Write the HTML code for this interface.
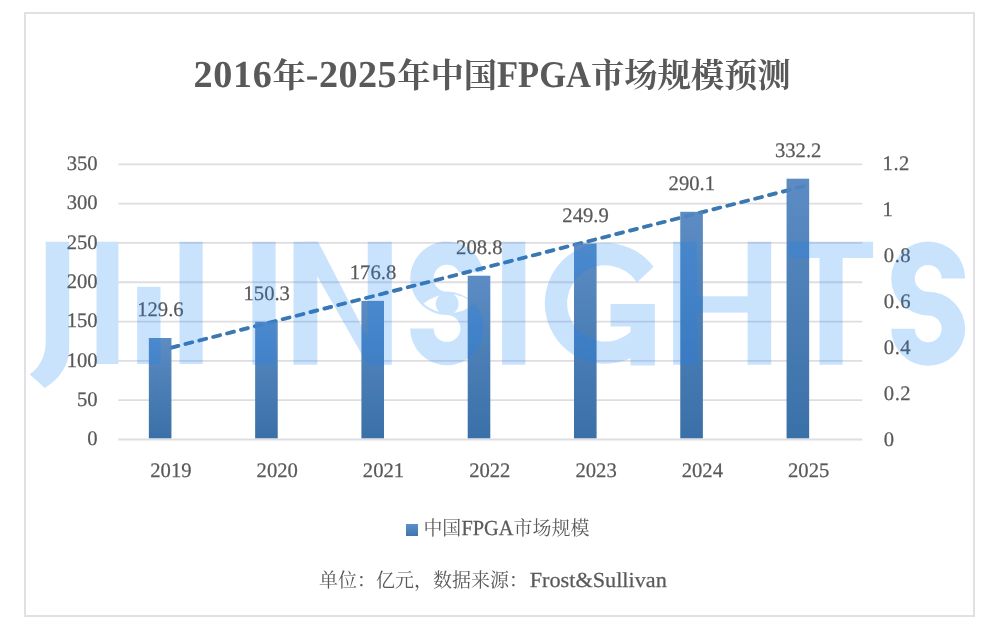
<!DOCTYPE html>
<html lang="zh-CN"><head><meta charset="utf-8"><title>2016年-2025年中国FPGA市场规模预测</title>
<style>
html,body{margin:0;padding:0;background:#fff}
body{width:993px;height:629px;overflow:hidden;font-family:"Liberation Serif",serif;color:#595959}
#chart{position:relative;width:993px;height:629px;overflow:hidden;background:#fff}
.frame{position:absolute;left:24px;top:12px;width:947px;height:601px;border:2px solid #e1e1e5}
svg{position:absolute;left:0;top:0;overflow:visible}
.cj text{fill:#595959;font-family:"Liberation Serif","Noto Serif CJK SC",serif}
.txt{position:absolute;left:0;top:0;width:993px;height:629px;opacity:.999}
.t{position:absolute;left:0;top:0;white-space:nowrap;text-rendering:geometricPrecision;transform-origin:0 0;-webkit-text-stroke:0.25px #595959;font-kerning:none;font-family:"Liberation Serif",serif;color:#595959;margin:0;padding:0}
h1,p{margin:0;padding:0;font-weight:normal;font-size:inherit}
.title .t{-webkit-text-stroke:0}
.sr{position:absolute;left:30px;top:20px;width:1px;height:1px;overflow:hidden;clip-path:inset(50%);white-space:nowrap;font-size:1px;line-height:1px;color:transparent}
.lgm{position:absolute;background:linear-gradient(#5b8fc9,#3f76b0)}
</style></head>
<body>
<div id="chart">
<div class="frame"></div>
<svg class="plot" width="993" height="629" viewBox="0 0 993 629"><defs><linearGradient id="bg" x1="0" y1="0" x2="0" y2="1"><stop offset="0" stop-color="#5c8cc3"/><stop offset="1" stop-color="#3a70a8"/></linearGradient></defs><g stroke="#dedee2" stroke-width="1.8"><line x1="118.3" y1="164.3" x2="862.3" y2="164.3"/><line x1="118.3" y1="203.61" x2="862.3" y2="203.61"/><line x1="118.3" y1="242.93" x2="862.3" y2="242.93"/><line x1="118.3" y1="282.24" x2="862.3" y2="282.24"/><line x1="118.3" y1="321.56" x2="862.3" y2="321.56"/><line x1="118.3" y1="360.87" x2="862.3" y2="360.87"/><line x1="118.3" y1="400.19" x2="862.3" y2="400.19"/><line x1="118.3" y1="439.5" x2="862.3" y2="439.5"/></g><line id="trend" x1="171.49" y1="347.6" x2="809.16" y2="184.9" stroke="#3b77b0" stroke-width="3.7" stroke-linecap="round" stroke-dasharray="7.1 7.24"/><g fill="url(#bg)"><rect x="148.84" y="338" width="22.6" height="100.3"/><rect x="255.13" y="321.72" width="22.6" height="116.58"/><rect x="361.41" y="300.88" width="22.6" height="137.42"/><rect x="467.7" y="275.72" width="22.6" height="162.58"/><rect x="573.99" y="243.41" width="22.6" height="194.89"/><rect x="680.27" y="211.8" width="22.6" height="226.5"/><rect x="786.56" y="178.7" width="22.6" height="259.6"/></g><use href="#trend" opacity="0.35"/></svg>
<div class="txt">
<h1 class="mx title"><span class="t" style="transform:translate(193.5px,52px);font-size:38.13px;line-height:46px;letter-spacing:0.68px;font-weight:bold;">2016</span><span class="sr">年</span><span class="t" style="transform:translate(305.79px,52px);font-size:38.13px;line-height:46px;letter-spacing:0.47px;font-weight:bold;">-2025</span><span class="sr">年中国</span><span class="t" style="transform:translate(497px,53px) scaleX(0.9175);font-size:37.66px;line-height:45px;font-weight:bold;">FPGA</span><span class="sr">市场规模预测</span><svg class="cj" width="993" height="629" viewBox="0 0 993 629" aria-hidden="true" focusable="false"><text x="272.5" y="87" font-size="33.25" font-weight="bold">年</text><text x="397.2" y="87" font-size="33.25" font-weight="bold">年中国</text><text x="591" y="87" font-size="33.25" font-weight="bold">市场规模预测</text></svg></h1>
<div class="ax yl">
<span class="t" style="transform:translate(66.69px,152px);font-size:20.67px;line-height:25px;">350</span>
<span class="t" style="transform:translate(66.69px,191px);font-size:20.67px;line-height:25px;">300</span>
<span class="t" style="transform:translate(66.69px,231px);font-size:20.67px;line-height:25px;">250</span>
<span class="t" style="transform:translate(66.69px,270px);font-size:20.67px;line-height:25px;">200</span>
<span class="t" style="transform:translate(66.69px,309px);font-size:20.67px;line-height:25px;">150</span>
<span class="t" style="transform:translate(66.69px,349px);font-size:20.67px;line-height:25px;">100</span>
<span class="t" style="transform:translate(77.03px,388px);font-size:20.67px;line-height:25px;">50</span>
<span class="t" style="transform:translate(87.37px,427px);font-size:20.67px;line-height:25px;">0</span>
</div><div class="ax yr">
<span class="t" style="transform:translate(882.6px,152px);font-size:20.67px;line-height:25px;letter-spacing:0.5px;">1.2</span>
<span class="t" style="transform:translate(882.6px,198px);font-size:20.67px;line-height:25px;">1</span>
<span class="t" style="transform:translate(883.8px,244px);font-size:20.67px;line-height:25px;letter-spacing:0.5px;">0.8</span>
<span class="t" style="transform:translate(883.8px,290px);font-size:20.67px;line-height:25px;letter-spacing:0.5px;">0.6</span>
<span class="t" style="transform:translate(883.8px,336px);font-size:20.67px;line-height:25px;letter-spacing:0.5px;">0.4</span>
<span class="t" style="transform:translate(883.8px,382px);font-size:20.67px;line-height:25px;letter-spacing:0.5px;">0.2</span>
<span class="t" style="transform:translate(883.8px,428px);font-size:20.67px;line-height:25px;">0</span>
</div><div class="ax xl">
<span class="t" style="transform:translate(150.27px,459px);font-size:20.67px;line-height:25px;">2019</span>
<span class="t" style="transform:translate(256.56px,459px);font-size:20.67px;line-height:25px;">2020</span>
<span class="t" style="transform:translate(362.84px,459px);font-size:20.67px;line-height:25px;">2021</span>
<span class="t" style="transform:translate(469.13px,459px);font-size:20.67px;line-height:25px;">2022</span>
<span class="t" style="transform:translate(575.42px,459px);font-size:20.67px;line-height:25px;">2023</span>
<span class="t" style="transform:translate(681.7px,459px);font-size:20.67px;line-height:25px;">2024</span>
<span class="t" style="transform:translate(787.99px,459px);font-size:20.67px;line-height:25px;">2025</span>
</div><div class="dl">
<span class="t" style="transform:translate(137.19px,298px);font-size:20.67px;line-height:25px;">129.6</span>
<span class="t" style="transform:translate(243.47px,282px);font-size:20.67px;line-height:25px;">150.3</span>
<span class="t" style="transform:translate(349.76px,261px);font-size:20.67px;line-height:25px;">176.8</span>
<span class="t" style="transform:translate(456.05px,236px);font-size:20.67px;line-height:25px;">208.8</span>
<span class="t" style="transform:translate(562.33px,204px);font-size:20.67px;line-height:25px;">249.9</span>
<span class="t" style="transform:translate(668.62px,172px);font-size:20.67px;line-height:25px;">290.1</span>
<span class="t" style="transform:translate(774.9px,139px);font-size:20.67px;line-height:25px;">332.2</span>
</div>
<div class="lgm" style="left:405.5px;top:523.7px;width:12.6px;height:12.6px"></div>
<div class="mx legend"><span class="sr">中国</span><span class="t" style="transform:translate(461.5px,515px) scaleX(0.9489);font-size:21.43px;line-height:26px;">FPGA</span><span class="sr">市场规模</span><svg class="cj" width="993" height="629" viewBox="0 0 993 629" aria-hidden="true" focusable="false"><text x="423.4" y="535" font-size="18.95">中国</text><text x="513.6" y="535" font-size="18.95">市场规模</text></svg></div>
<p class="mx note"><span class="sr">单位：亿元，数据来源：</span><span class="t" style="transform:translate(529.65px,567px) scaleX(1.0384);font-size:21.43px;line-height:26px;">Frost&amp;Sullivan</span><svg class="cj" width="993" height="629" viewBox="0 0 993 629" aria-hidden="true" focusable="false"><text x="319" y="587" font-size="19">单位：亿元，数据来源：</text></svg></p>
</div>
<svg class="wm" width="993" height="629" viewBox="0 0 993 629" role="img" aria-label="JL INSIGHTS watermark"><title>JL INSIGHTS</title><defs><mask id="eyem" maskUnits="userSpaceOnUse" x="0" y="0" width="993" height="629"><rect width="993" height="629" fill="#fff"/><path d="M423.6 303.7A39.02 39.02 0 0 1 474.4 303.7A39.02 39.02 0 0 1 423.6 303.7Z" fill="#000"/><circle cx="447.2" cy="303.7" r="11.4" fill="#fff"/></mask></defs><g fill="#1482fa" opacity="0.22"><path d="M45.7 241.7H69.2V349.8C69.2 364 60 379 44.8 387.9L29.5 374.2C38 369 45.7 358 45.7 341.5Z"/><rect x="96.5" y="241.7" width="21.9" height="122.3"/><rect x="137.1" y="286.8" width="23.4" height="77.2"/><rect x="179.5" y="241.7" width="23.2" height="122.3"/><rect x="252.4" y="241.7" width="23.2" height="123.1"/><rect x="293.5" y="241.7" width="23.8" height="123.1"/><rect x="367.7" y="241.7" width="24.1" height="123.1"/><path d="M305.0 241.7H318.1L380.0 361.54V364.8H367.7L305.0 254.82Z"/><path d="M965.2 278.4A37.0 37.0 0 1 0 928.2 315.4A13.4 13.4 0 0 1 928.2 342.2A13.4 13.4 0 0 1 914.8 328.8H891.2A37.0 37.0 0 1 0 928.2 291.8A13.4 13.4 0 0 1 928.2 265A13.4 13.4 0 0 1 941.6 278.4Z"/><path d="M483.31 272.2A36.8 36.8 0 1 0 447 315A13.4 13.4 0 0 1 447 341.8A13.4 13.4 0 0 1 433.6 328.4H410.2A36.8 36.8 0 1 0 447 291.6A13.4 13.4 0 0 1 447 264.8A13.4 13.4 0 0 1 458.98 272.2Z" mask="url(#eyem)"/><rect x="502.1" y="241.7" width="23.2" height="123.1"/><path d="M637.0 282.4L653.6 266.8A60.5 60.5 0 1 0 654.9 337.91V304.0H610.6V326.5H630.5V332.01A38.1 38.1 0 1 1 637.0 282.4Z"/><path d="M630.5 326.5V365.4H654.9V337.91L630.5 332.01Z"/><rect x="673.1" y="241.7" width="23.7" height="123.1"/><rect x="747.6" y="241.7" width="23.6" height="123.1"/><rect x="690" y="296.3" width="65" height="16.3"/><rect x="789" y="241.7" width="84.1" height="16.3"/><rect x="819.5" y="250" width="23.1" height="114.8"/></g></svg>
</div>
</body></html>
